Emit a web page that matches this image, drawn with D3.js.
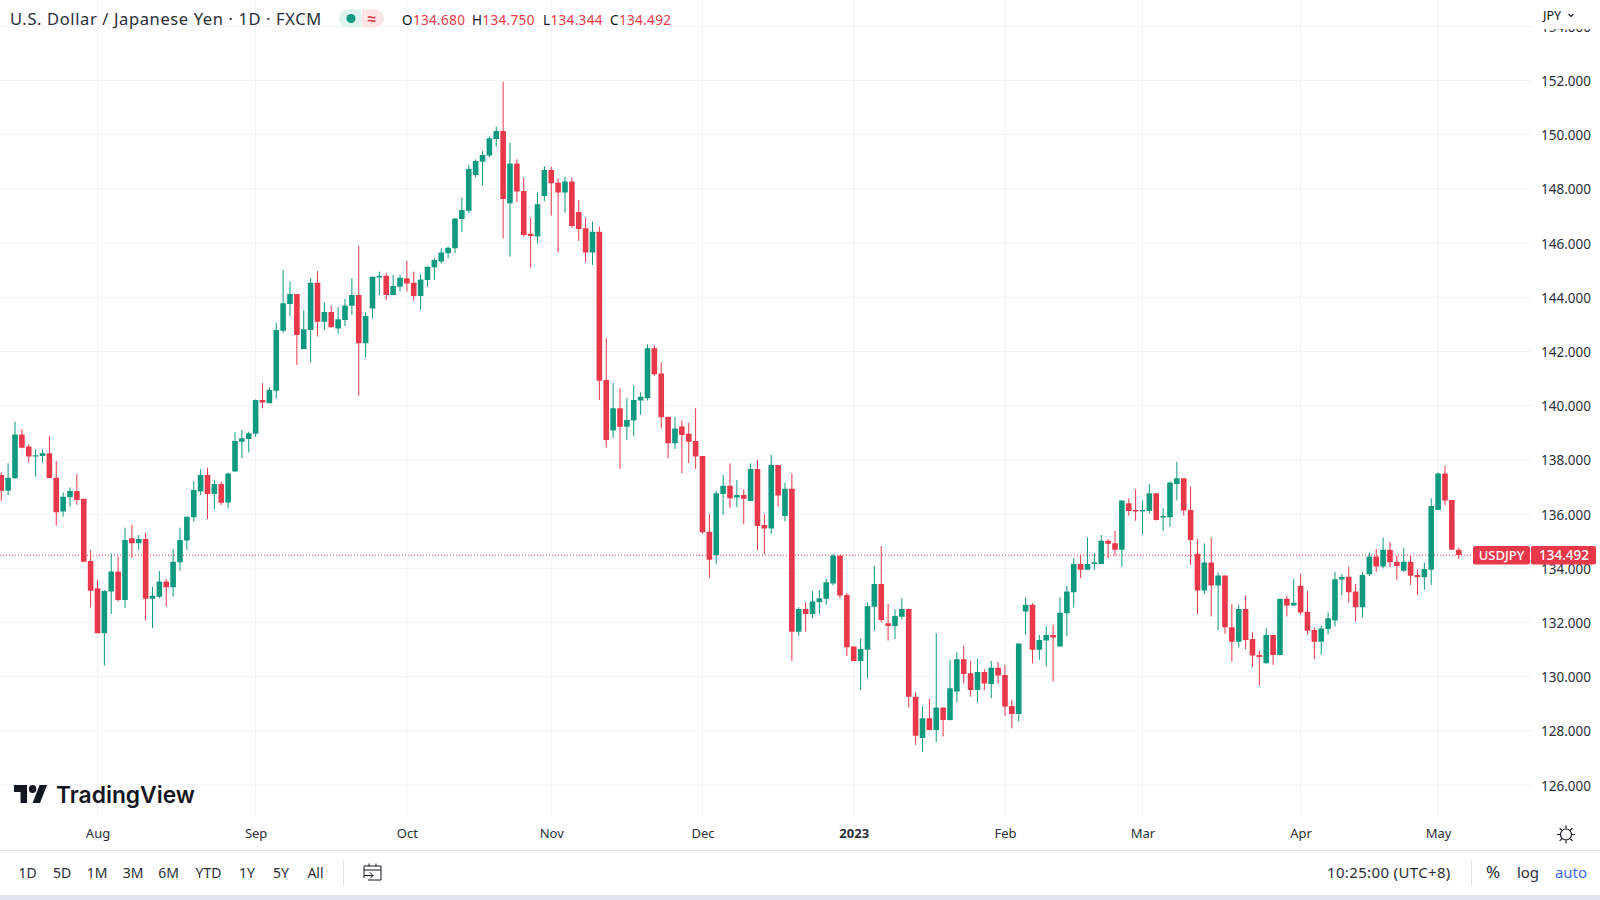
<!DOCTYPE html>
<meta charset="utf-8">

<style>
body{
	background-color: #fff;
	margin: 0px;
}

svg{
	display: block;
}

text{
	font-family: "Noto Sans", sans-serif;
	fill: #131722;
}

.axis path, .axis line{
	display: none;
}

.axis text{
	font-family: "Noto Sans", sans-serif;
	font-size: 13.5px;
	fill: #2a2e39;
}
</style>

<body></body>

<script src="https://cdn.jsdelivr.net/npm/d3@7"></script>

<script>

// daily bars, Jul 2022 - May 2023, one line per 10 bars
var opens = [
	137.44,136.86,137.32,138.94,138.49,138.12,138.14,138.24,137.34,136.09,
	136.62,136.85,136.56,134.27,133.26,131.60,133.14,133.88,132.83,135.11,
	134.92,135.08,132.87,132.95,133.51,133.30,134.22,135.02,135.88,136.83,
	137.44,136.74,137.11,136.43,137.57,138.67,138.77,138.96,140.21,140.09,
	140.55,142.76,143.75,144.12,142.09,142.79,144.54,143.10,143.46,142.85,
	143.16,143.69,144.08,142.30,143.59,144.73,144.79,144.08,144.39,144.70,
	144.54,144.05,144.64,145.11,145.32,145.62,145.81,146.89,147.19,148.51,
	149.00,149.23,149.84,150.14,147.47,148.94,147.92,146.34,146.24,147.74,
	148.70,148.23,147.87,148.27,147.15,146.55,145.65,146.42,140.95,139.08,
	139.90,139.22,139.45,140.19,140.27,142.12,141.19,139.59,138.61,139.23,
	138.96,138.70,138.14,135.35,134.49,136.74,137.04,136.61,136.70,136.48,
	137.66,135.60,135.47,137.81,135.93,136.93,131.66,132.50,132.31,132.74,
	132.87,133.44,134.47,133.01,131.11,130.58,130.99,132.58,133.42,131.97,
	131.87,132.21,132.50,129.26,127.73,128.46,128.03,128.86,128.40,129.45,
	130.64,130.12,129.51,130.17,129.73,130.33,130.06,128.92,128.62,132.40,
	132.65,130.99,131.33,131.54,131.11,132.34,133.11,134.16,133.94,134.16,
	134.16,135.01,134.92,134.68,136.40,136.15,136.09,136.11,136.77,135.87,
	135.88,137.11,137.32,136.15,134.53,133.18,134.21,133.36,133.73,131.82,
	131.29,132.50,131.39,130.80,130.49,131.54,130.80,132.87,132.62,133.35,
	132.39,131.72,131.29,131.76,132.07,133.58,133.69,133.14,132.56,133.78,
	134.43,134.06,134.68,134.24,133.91,134.24,133.75,133.67,133.94,136.15,
	137.50,136.52,134.680
]
var highs = [
	137.53,137.87,139.41,139.13,138.57,138.39,138.39,138.88,137.96,136.80,
	136.98,137.48,136.56,134.67,133.57,133.20,134.55,134.43,135.50,135.60,
	135.23,135.31,133.32,133.90,133.60,134.70,135.50,135.90,137.22,137.65,
	137.71,137.26,137.20,137.53,139.02,139.10,139.04,140.23,140.83,140.68,
	143.06,145.01,144.58,144.12,143.51,144.70,144.97,143.80,143.70,143.63,
	143.94,144.70,145.90,143.45,144.76,144.95,144.89,144.82,144.82,145.34,
	144.95,144.85,145.13,145.44,145.81,145.87,146.91,147.69,148.88,149.09,
	149.40,149.93,150.30,151.96,149.71,149.09,148.41,146.94,147.87,148.84,
	148.82,148.39,148.45,148.41,147.59,146.94,146.79,146.61,142.49,140.83,
	140.64,140.27,140.76,140.49,142.26,142.24,141.62,139.59,139.59,139.45,
	139.37,139.90,138.14,136.00,136.85,137.44,137.87,137.26,136.91,137.87,
	138.00,136.00,138.18,137.81,137.16,137.50,132.56,132.74,133.16,133.20,
	133.60,134.53,134.47,133.10,131.11,131.41,132.74,134.08,134.82,132.68,
	132.49,132.89,132.50,129.42,128.89,129.18,131.60,128.86,130.62,130.90,
	131.13,130.58,130.65,130.27,130.58,130.55,130.43,129.14,131.22,132.92,
	132.71,131.54,131.85,131.91,132.92,133.35,134.37,134.49,135.14,134.55,
	135.23,135.07,135.38,136.50,136.58,136.91,136.50,137.11,136.77,136.21,
	137.20,137.93,137.32,137.01,135.08,134.92,135.14,133.85,133.73,132.68,
	132.65,133.00,131.64,130.95,131.79,131.54,132.87,132.98,133.60,133.79,
	133.16,131.82,131.88,132.37,133.87,133.79,134.06,133.42,133.85,134.58,
	134.71,135.13,134.98,134.47,134.74,134.47,133.96,134.21,136.58,137.53,
	137.79,136.52,134.750
]
var lows = [
	136.48,136.70,137.30,138.43,137.90,137.38,137.90,137.32,135.57,135.90,
	136.27,136.34,134.23,132.55,131.60,130.41,132.31,132.77,132.54,134.39,
	134.67,132.07,131.79,132.89,132.59,132.95,133.91,134.67,135.72,136.70,
	135.82,136.18,136.34,136.21,137.57,138.06,138.27,138.86,139.90,140.09,
	140.27,142.69,143.31,141.50,142.09,141.59,142.55,142.79,142.89,142.65,
	142.94,143.35,140.37,141.79,143.22,144.07,143.90,144.08,144.21,144.21,
	143.87,143.53,144.39,144.64,145.25,145.44,145.62,146.42,147.12,148.43,
	148.12,149.16,149.56,146.17,145.50,147.53,146.24,145.09,145.99,147.55,
	147.01,145.66,147.12,146.58,146.08,145.28,145.19,140.21,138.46,138.80,
	137.66,138.73,138.88,139.66,140.19,141.10,139.16,138.06,138.40,137.50,
	137.87,137.66,135.27,133.63,134.16,135.97,136.21,136.25,135.63,136.48,
	134.67,134.53,135.27,136.27,135.72,130.58,131.51,131.66,132.15,132.31,
	132.65,133.36,132.89,130.76,130.58,129.51,129.94,131.70,132.00,131.33,
	131.39,132.11,128.86,127.48,127.23,128.01,127.58,127.79,128.38,129.05,
	129.75,129.26,129.05,129.51,129.20,129.75,128.55,128.09,128.34,131.54,
	130.49,130.62,130.37,129.82,131.11,131.50,132.55,133.63,133.94,133.94,
	134.16,134.37,134.47,134.06,135.94,135.75,135.26,136.03,135.76,135.38,
	135.54,136.50,135.94,134.12,132.31,133.05,132.22,131.72,131.58,130.55,
	131.07,131.01,130.35,129.66,130.49,130.43,130.78,132.22,132.61,132.28,
	131.56,130.65,130.80,131.56,131.85,132.99,132.73,132.03,132.18,133.71,
	133.87,134.00,134.04,133.57,133.87,133.38,133.02,133.20,133.38,136.15,
	136.34,134.68,134.344
]
var closes = [
	136.86,137.34,138.94,138.45,138.12,138.17,138.24,137.33,136.07,136.64,
	136.85,136.52,134.24,133.17,131.60,133.16,133.88,132.83,135.04,134.92,
	135.08,132.87,132.98,133.51,133.30,134.24,135.04,135.90,136.89,137.44,
	136.74,137.11,136.42,137.50,138.70,138.80,138.98,140.21,140.12,140.58,
	142.79,143.78,144.12,142.61,142.82,144.54,143.10,143.46,142.89,143.19,
	143.70,144.08,142.30,143.31,144.76,144.79,144.08,144.42,144.72,144.51,
	144.05,144.66,145.13,145.38,145.65,145.83,146.91,147.22,148.73,149.03,
	149.25,149.87,150.14,147.63,148.94,147.90,146.30,146.26,147.43,148.70,
	148.21,147.87,148.27,146.63,146.52,145.65,146.42,140.92,138.73,139.90,
	139.22,139.47,140.21,140.33,142.12,141.16,139.57,138.61,139.16,138.92,
	138.67,138.12,135.33,134.31,136.77,137.04,136.58,136.70,136.56,137.66,
	135.56,135.47,137.81,136.68,136.93,131.66,132.50,132.31,132.77,132.89,
	133.48,134.47,132.99,131.08,130.58,131.02,132.61,133.42,132.09,131.87,
	132.24,132.50,129.26,127.82,128.46,128.03,128.86,128.40,129.57,130.64,
	130.10,129.51,130.17,129.75,130.33,130.04,128.90,128.62,131.22,132.65,
	130.99,131.35,131.54,131.44,132.36,133.14,134.16,133.94,134.16,134.22,
	135.01,134.90,134.68,136.50,136.11,136.09,136.15,136.77,135.78,135.93,
	137.16,137.32,136.13,135.04,133.18,134.21,133.36,133.73,131.82,131.29,
	132.50,131.35,130.78,130.72,131.54,130.80,132.87,132.62,132.73,132.37,
	131.69,131.29,131.78,132.15,133.59,133.68,133.11,132.56,133.75,134.43,
	134.06,134.68,134.22,134.08,134.24,133.72,133.67,133.97,136.30,137.50,
	136.50,134.68,134.492
]

// bar index of the first trading day of each month
var monthBars = [14, 37, 59, 80, 102, 124, 146, 166, 189, 209]
var monthLabels = ['Aug', 'Sep', 'Oct', 'Nov', 'Dec', '2023', 'Feb', 'Mar', 'Apr', 'May']
var priceTicks = [154, 152, 150, 148, 146, 144, 142, 140, 138, 136, 134, 132, 130, 128, 126]
var lastPrice = 134.492
var rangeButtons = [['1D', 27.5], ['5D', 62], ['1M', 97], ['3M', 133], ['6M', 168.5], ['YTD', 208.5], ['1Y', 247], ['5Y', 281], ['All', 315.5]]

var red = '#e9384a', green = '#0f9a80', gridColor = '#f1f3f8'

var width = 1600, height = 900

var svg = d3.select('body').append('svg')
	.attr('width', width).attr('height', height)

var x = d3.scaleLinear().domain([14, 209]).range([97.5, 1438.1])
var y = d3.scaleLinear().domain([152, 126]).range([80.5, 785])

// grid
svg.append('g').selectAll('line').data(priceTicks).enter().append('line')
	.attr('x1', 0).attr('x2', 1531)
	.attr('y1', function(d){ return y(d) }).attr('y2', function(d){ return y(d) })
	.attr('stroke', gridColor)

svg.append('g').selectAll('line').data(monthBars).enter().append('line')
	.attr('y1', 0).attr('y2', 817)
	.attr('x1', function(d){ return x(d) }).attr('x2', function(d){ return x(d) })
	.attr('stroke', gridColor)

// last price line
svg.append('line')
	.attr('x1', 0).attr('x2', 1473)
	.attr('y1', y(lastPrice) + 0.3).attr('y2', y(lastPrice) + 0.3)
	.attr('stroke', red).attr('stroke-width', 1).attr('stroke-dasharray', '1 2')

// candles
var bars = svg.append('g').selectAll('g').data(d3.range(opens.length)).enter().append('g')
	.attr('fill', function(i){ return closes[i] >= opens[i] ? green : red })

bars.append('rect')
	.attr('x', function(i){ return x(i) - 0.5 })
	.attr('width', 1)
	.attr('y', function(i){ return y(highs[i]) })
	.attr('height', function(i){ return y(lows[i]) - y(highs[i]) })

bars.append('rect')
	.attr('x', function(i){ return x(i) - 2.8 })
	.attr('width', 5.6)
	.attr('rx', 0.5)
	.attr('y', function(i){ return y(Math.max(opens[i], closes[i])) })
	.attr('height', function(i){ return Math.max(1.2, Math.abs(y(opens[i]) - y(closes[i]))) })

// price axis
svg.append('g').attr('class', 'axis')
	.attr('transform', 'translate(1533,0.7)')
	.call(d3.axisRight(y).tickValues(priceTicks).tickSize(0).tickPadding(8)
		.tickFormat(d3.format('.3f')))

// time axis
var timeAxis = svg.append('g').attr('class', 'axis')
	.attr('transform', 'translate(0,823)')
	.call(d3.axisBottom(x).tickValues(monthBars).tickSize(0).tickPadding(6)
		.tickFormat(function(d){ return monthLabels[monthBars.indexOf(d)] }))

timeAxis.selectAll('text')
	.style('font-size', '13px')
	.style('font-weight', function(d){ return d == 124 ? 700 : 400 })

// header covers the clipped top tick
svg.append('rect').attr('x', 1535).attr('y', 0).attr('width', 65).attr('height', 29).attr('fill', '#fff')

svg.append('text').attr('x', 10).attr('y', 24.5)
	.style('font-size', '16.5px').style('letter-spacing', '0.62px').style('fill', '#2a2e39')
	.text('U.S. Dollar / Japanese Yen · 1D · FXCM')

svg.append('rect').attr('x', 339).attr('y', 9.5).attr('width', 23).attr('height', 18).attr('rx', 9).attr('fill', '#dff3ef')
svg.append('rect').attr('x', 361).attr('y', 9.5).attr('width', 23).attr('height', 18).attr('rx', 9).attr('fill', '#fde4e7')
svg.append('rect').attr('x', 350).attr('y', 9.5).attr('width', 11).attr('height', 18).attr('fill', '#dff3ef')
svg.append('rect').attr('x', 362).attr('y', 9.5).attr('width', 11).attr('height', 18).attr('fill', '#fde4e7')
svg.append('circle').attr('cx', 351).attr('cy', 18.5).attr('r', 4.5).attr('fill', green)
svg.append('text').attr('x', 371.5).attr('y', 23.5).attr('text-anchor', 'middle')
	.style('font-size', '15px').style('font-weight', 700).style('fill', red).text('≈')

var ohlcRead = [['O', 402, opens], ['H', 472, highs], ['L', 543, lows], ['C', 610, closes]]
ohlcRead.forEach(function(d){
	var t = svg.append('text').attr('x', d[1]).attr('y', 24.5).style('font-size', '13.5px').style('letter-spacing', '0.35px')
	t.append('tspan').text(d[0])
	t.append('tspan').style('fill', red).text(d3.format('.3f')(d[2][d[2].length - 1]))
})

svg.append('text').attr('x', 1543).attr('y', 20).style('font-size', '12.5px').text('JPY')
svg.append('path').attr('d', 'M1568.5 14l2.5 2.5l2.5 -2.5').attr('fill', 'none').attr('stroke', '#131722').attr('stroke-width', 1.2)

// price label
svg.append('rect').attr('x', 1473).attr('y', 546).attr('width', 57).attr('height', 18.5).attr('rx', 2).attr('fill', red)
svg.append('rect').attr('x', 1531).attr('y', 546).attr('width', 65).attr('height', 18.5).attr('rx', 2).attr('fill', red)
svg.append('text').attr('x', 1501.5).attr('y', 560).attr('text-anchor', 'middle')
	.style('font-size', '13px').style('font-weight', 500).style('fill', '#fff').text('USDJPY')
svg.append('text').attr('x', 1564).attr('y', 560).attr('text-anchor', 'middle')
	.style('font-size', '13.5px').style('font-weight', 500).style('fill', '#fff').text(d3.format('.3f')(lastPrice))

// logo
svg.append('g').attr('transform', 'translate(14,781) scale(0.93,1)').attr('fill', '#131722')
	.call(function(g){
		g.append('path').attr('d', 'M14 22H7V11H0V4h14v18zM28 22h-8l7.5-18h8L28 22z')
		g.append('circle').attr('cx', 20).attr('cy', 8).attr('r', 4)
	})
svg.append('text').attr('x', 56).attr('y', 802.5)
	.style('font-family', 'Inter').style('font-size', '22.8px').style('font-weight', 600)
	.text('TradingView')

// settings gear
svg.append('circle').attr('cx', 1566).attr('cy', 834.5).attr('r', 5.5).attr('fill', 'none').attr('stroke', '#131722').attr('stroke-width', 1.2)
svg.append('path').attr('d', 'M1566 825.5v3M1566 840.5v3M1557 834.5h3M1572 834.5h3M1559.6 828.1l2.1 2.1M1570.3 838.8l2.1 2.1M1572.4 828.1l-2.1 2.1M1561.7 838.8l-2.1 2.1')
	.attr('stroke', '#131722').attr('stroke-width', 1.2)

// bottom toolbar
svg.append('line').attr('x1', 0).attr('x2', width).attr('y1', 850.5).attr('y2', 850.5).attr('stroke', '#e0e3eb')
svg.append('rect').attr('x', 0).attr('y', 895).attr('width', width).attr('height', 5).attr('fill', '#e1e5ef')

svg.append('g').selectAll('text').data(rangeButtons).enter().append('text')
	.attr('x', function(d){ return d[1] }).attr('y', 877.5).attr('text-anchor', 'middle')
	.style('font-size', '14px').style('fill', '#2a2e39')
	.text(function(d){ return d[0] })

svg.append('line').attr('x1', 343.5).attr('x2', 343.5).attr('y1', 860).attr('y2', 886).attr('stroke', '#e0e3eb')
svg.append('path').attr('d', 'M364 878v-12h17v14h-13M364 870h17M369 863.5v3M376 863.5v3M364 875.5h9m-3 -3l3 3l-3 3')
	.attr('fill', 'none').attr('stroke', '#131722')

svg.append('text').attr('x', 1327).attr('y', 877.5).style('font-size', '15px').style('letter-spacing', '0.35px').style('fill', '#2a2e39').text('10:25:00 (UTC+8)')
svg.append('line').attr('x1', 1471.5).attr('x2', 1471.5).attr('y1', 860).attr('y2', 886).attr('stroke', '#e0e3eb')
svg.append('text').attr('x', 1493).attr('y', 878).attr('text-anchor', 'middle').style('font-size', '17px').style('fill', '#2a2e39').text('%')
svg.append('text').attr('x', 1528).attr('y', 877.5).attr('text-anchor', 'middle').style('font-size', '15px').style('fill', '#2a2e39').text('log')
svg.append('text').attr('x', 1571).attr('y', 877.5).attr('text-anchor', 'middle').style('font-size', '15px').style('fill', '#3f6bec').text('auto')

</script>
